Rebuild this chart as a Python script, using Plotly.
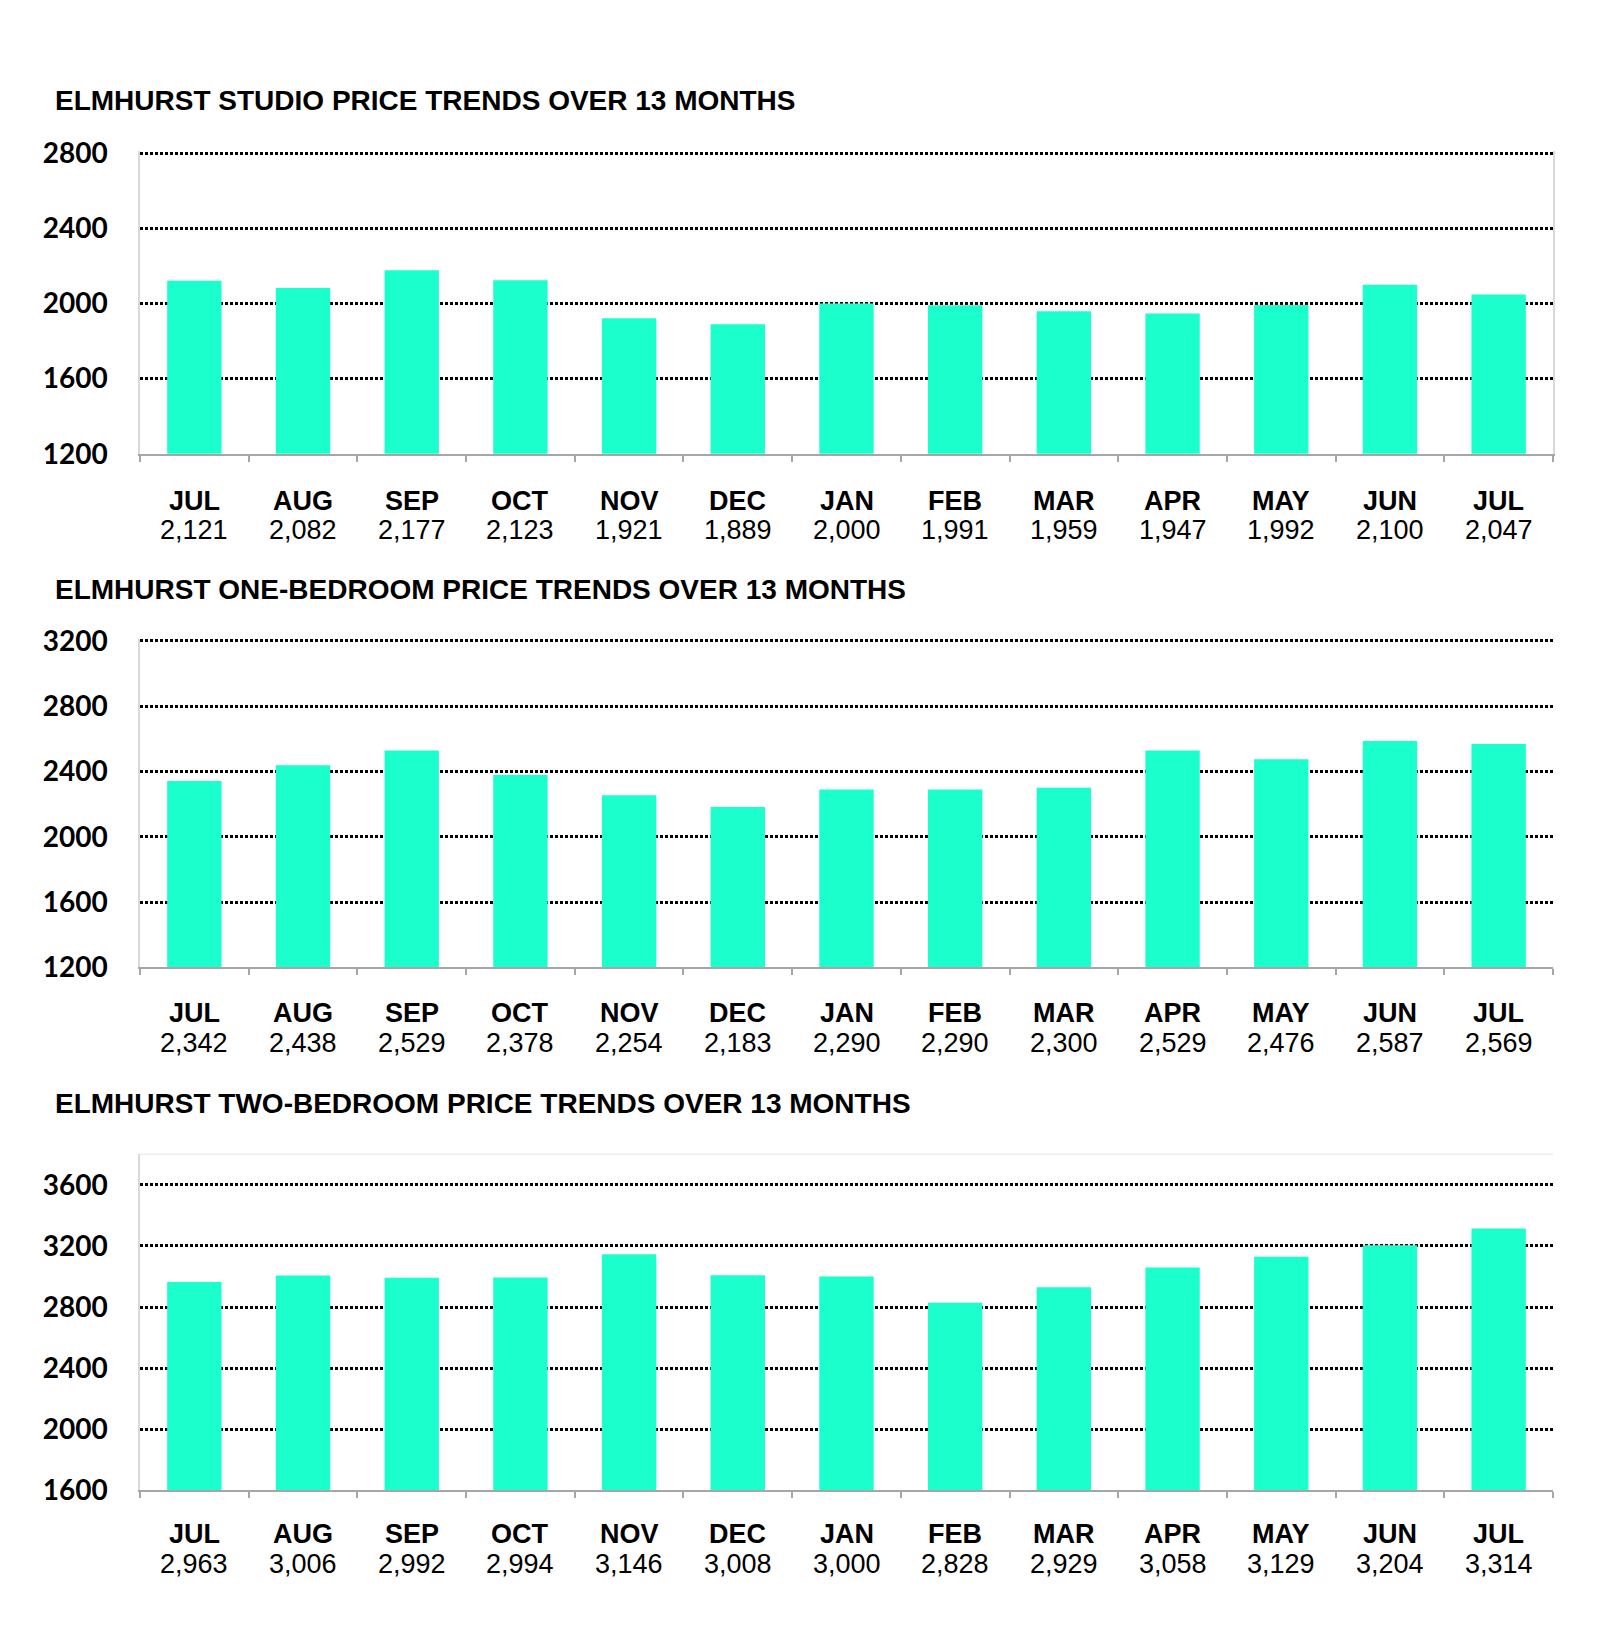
import plotly.graph_objects as go

months = ["JUL", "AUG", "SEP", "OCT", "NOV", "DEC", "JAN", "FEB", "MAR", "APR", "MAY", "JUN", "JUL"]
studio = [2121, 2082, 2177, 2123, 1921, 1889, 2000, 1991, 1959, 1947, 1992, 2100, 2047]
one_bed = [2342, 2438, 2529, 2378, 2254, 2183, 2290, 2290, 2300, 2529, 2476, 2587, 2569]
two_bed = [2963, 3006, 2992, 2994, 3146, 3008, 3000, 2828, 2929, 3058, 3129, 3204, 3314]
titles = [
    "ELMHURST STUDIO PRICE TRENDS OVER 13 MONTHS",
    "ELMHURST ONE-BEDROOM PRICE TRENDS OVER 13 MONTHS",
    "ELMHURST TWO-BEDROOM PRICE TRENDS OVER 13 MONTHS",
]
y_min = [1200, 1200, 1600]
y_top_tick = [2800, 3200, 3600]
y_range_top = [2812, 3212, 3800]
y_ticks = [
    [1200, 1600, 2000, 2400, 2800],
    [1200, 1600, 2000, 2400, 2800, 3200],
    [1600, 2000, 2400, 2800, 3200, 3600],
]

W, H = 1600, 1630
BAR = "#1AFFCC"
ARIAL = "Liberation Sans, Arial, sans-serif"

# pixel layout: (px of top tick, px of bottom axis, title y, month yshift, value yshift)
panels = [
    (131.7, 438.4, 77.7, -47, -76),
    (629.3, 962.3, 577.2, -46, -76),
    (1184.0, 1495.8, 1101.3, -44, -74),
]
x_left, x_right = 132, 1545

fig = go.Figure()
series = [studio, one_bed, two_bed]
idx = list(range(len(months)))

for i, (vals, (ptick, pbot, ty, ms, vs)) in enumerate(zip(series, panels)):
    n = "" if i == 0 else str(i + 1)
    xa, ya = "x" + n, "y" + n
    scale = (pbot - ptick) / (y_top_tick[i] - y_min[i])
    ptop = ptick - (y_range_top[i] - y_top_tick[i]) * scale
    fig.add_trace(go.Bar(x=idx, y=vals, marker=dict(color=BAR, line=dict(width=0)),
                         xaxis=xa, yaxis=ya, showlegend=False, hoverinfo="x+y"))
    fig.layout["xaxis" + n] = dict(
        domain=[x_left / W, x_right / W], anchor=ya, range=[-0.5, len(months) - 0.5],
        tickmode="array", tickvals=[k - 0.5 for k in range(len(months) + 1)],
        showticklabels=False, ticks="outside", ticklen=6, tickwidth=1.5, tickcolor="#A6A6A6",
        showline=True, linecolor="#A6A6A6", linewidth=2, showgrid=False, zeroline=False,
    )
    fig.layout["yaxis" + n] = dict(
        domain=[1 - pbot / H, 1 - ptop / H], anchor=xa, range=[y_min[i], y_range_top[i]],
        tickmode="array", tickvals=y_ticks[i], ticktext=[str(t) for t in y_ticks[i]],
        tickfont=dict(family="Lato", size=28, color="black", weight="bold"),
        ticks="", ticklabelstandoff=25,
        showgrid=True, gridcolor="black", gridwidth=2.5, griddash="3px,2px",
        showline=True, linecolor="#D9D9D9", linewidth=1.5, mirror=(i == 0), zeroline=False,
    )
    fig.add_annotation(text=titles[i], xref="paper", yref="paper", x=45 / W, y=1 - ty / H,
                       xanchor="left", yanchor="middle", showarrow=False,
                       font=dict(family=ARIAL, size=28, color="black", weight="bold"))
    for k, (m, v) in enumerate(zip(months, vals)):
        fig.add_annotation(text=f"<b>{m}</b>", xref=xa, yref="paper", x=k, y=1 - pbot / H,
                           yshift=ms, xanchor="center", yanchor="middle", showarrow=False,
                           font=dict(family=ARIAL, size=27, color="black"))
        fig.add_annotation(text=f"{v:,}", xref=xa, yref="paper", x=k, y=1 - pbot / H,
                           yshift=vs, xanchor="center", yanchor="middle", showarrow=False,
                           font=dict(family=ARIAL, size=27, color="black"))
    if i == 2:
        fig.add_shape(type="line", xref="paper", yref="paper", x0=x_left / W, x1=x_right / W,
                      y0=1 - ptop / H, y1=1 - ptop / H, line=dict(color="#EEEEEE", width=1.5))

fig.update_layout(width=W, height=H, margin=dict(l=0, r=0, t=0, b=0),
                  paper_bgcolor="white", plot_bgcolor="white", bargap=0.5)
fig.write_html("out.html")
